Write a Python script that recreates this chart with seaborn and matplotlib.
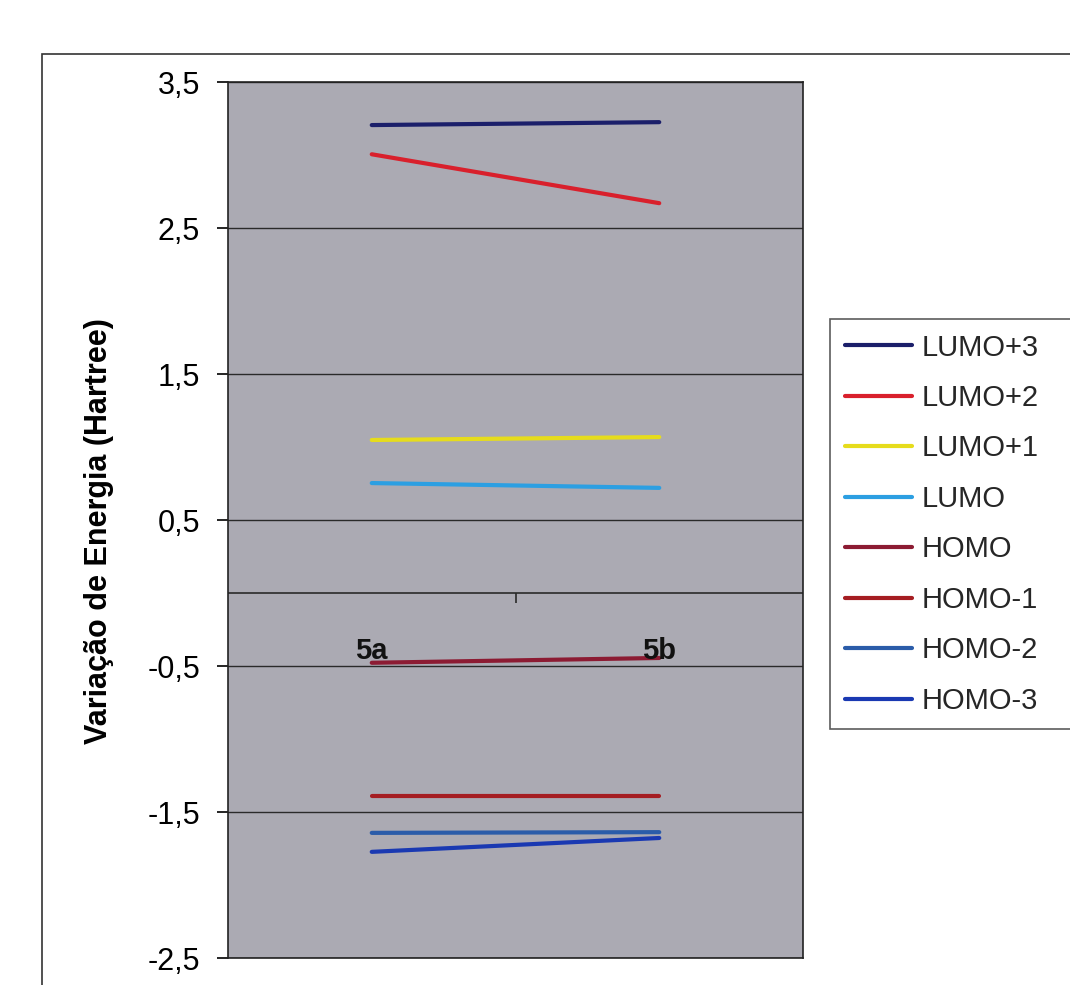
import matplotlib
matplotlib.use("Agg")
import matplotlib.pyplot as plt
import matplotlib.patches as mpatches
from matplotlib.ticker import FixedLocator, FuncFormatter
import pandas as pd
import seaborn as sns

# Orbital energies for the two structures
structures = ["5a", "5b"]
orbitals = ["LUMO+3", "LUMO+2", "LUMO+1", "LUMO", "HOMO", "HOMO-1", "HOMO-2", "HOMO-3"]
lumo_plus3 = [3.205, 3.225]
lumo_plus2 = [3.005, 2.670]
lumo_plus1 = [1.048, 1.068]
lumo = [0.753, 0.720]
homo = [-0.478, -0.445]
homo_minus1 = [-1.390, -1.390]
homo_minus2 = [-1.643, -1.638]
homo_minus3 = [-1.773, -1.678]
y_ticks = [3.5, 2.5, 1.5, 0.5, -0.5, -1.5, -2.5]

colors = ["#1b1f6a", "#d9202c", "#e6dc1c", "#2c9fe2",
          "#8c1b33", "#a51d22", "#2b5ca9", "#1a39b2"]

series = [lumo_plus3, lumo_plus2, lumo_plus1, lumo,
          homo, homo_minus1, homo_minus2, homo_minus3]
df = pd.DataFrame(
    [{"Estrutura": s, "Orbital": name, "Energia": vals[i]}
     for name, vals in zip(orbitals, series)
     for i, s in enumerate(structures)]
)

sns.set_theme(style="white")
plt.rcParams["font.family"] = ["Liberation Sans", "DejaVu Sans"]

fig = plt.figure(figsize=(10.7, 9.85), dpi=100)
fig.patch.set_facecolor("white")

# outer chart frame (runs off the right and bottom edges)
frame = mpatches.Rectangle((42 / 1070, -0.05), 1.2, 1 - 54 / 985 + 0.05,
                           transform=fig.transFigure, fill=False,
                           edgecolor="#333333", linewidth=1.2, zorder=0)
fig.patches.append(frame)

ax = fig.add_axes([228 / 1070, 1 - 958 / 985, (803 - 228) / 1070, (958 - 82) / 985])
ax.set_facecolor("#abaab3")

sns.lineplot(data=df, x="Estrutura", y="Energia", hue="Orbital",
             hue_order=orbitals, palette=colors, sort=False,
             linewidth=3, ax=ax, legend=True, zorder=3)

ax.set_xlim(-0.5, 1.5)
ax.set_ylim(-2.5, 3.5)
ax.yaxis.set_major_locator(FixedLocator(y_ticks))
ax.yaxis.set_major_formatter(FuncFormatter(lambda v, _: f"{v:.1f}".replace(".", ",")))
ax.tick_params(axis="y", which="major", direction="out", length=8, width=1.2,
               color="black", pad=12, labelsize=22, labelcolor="black", left=True)
ax.grid(axis="y", color="#2a2a2a", linewidth=1.0)
ax.grid(axis="x", visible=False)
for sp in ax.spines.values():
    sp.set_color("#222222")
    sp.set_linewidth(1.2)

ax.set_xlabel("")
ax.set_xticks([])
ax.set_ylabel("Variação de Energia (Hartree)", fontsize=22, fontweight="bold",
              color="black")
ax.yaxis.set_label_coords(-0.198, 0.487)

# category axis crossing at zero
ax.axhline(0, color="#2a2a2a", linewidth=1.2, zorder=2)
cat_ax = ax.secondary_xaxis(0, transform=ax.transData)
cat_ax.set_zorder(5)
cat_ax.set_xticks([0, 1])
cat_ax.set_xticklabels(structures)
cat_ax.set_xticks([0.5], minor=True)
cat_ax.tick_params(axis="x", which="both", top=False, bottom=True,
                   labeltop=False, labelbottom=True)
cat_ax.tick_params(axis="x", which="major", length=0, pad=32, labelsize=21)
cat_ax.tick_params(axis="x", which="minor", length=7, width=1.2, color="#2a2a2a",
                   direction="out")
for lbl in cat_ax.get_xticklabels():
    lbl.set_fontweight("bold")
    lbl.set_color("#111111")
for sp in cat_ax.spines.values():
    sp.set_visible(False)

handles, labels = ax.get_legend_handles_labels()
ax.legend_.remove()
leg = fig.legend(handles, labels, loc="upper left",
                 bbox_to_anchor=(830 / 1070, 1 - 319 / 985, 250 / 1070, 0),
                 mode="expand",
                 frameon=True, fancybox=False, fontsize=21,
                 handlelength=2.3, handletextpad=0.34, labelspacing=0.77,
                 borderpad=0.5, borderaxespad=0)
leg.get_frame().set_edgecolor("#333333")
leg.get_frame().set_linewidth(1.2)
for line in leg.get_lines():
    line.set_linewidth(3)

fig.savefig("out.png", dpi=100, facecolor="white")
